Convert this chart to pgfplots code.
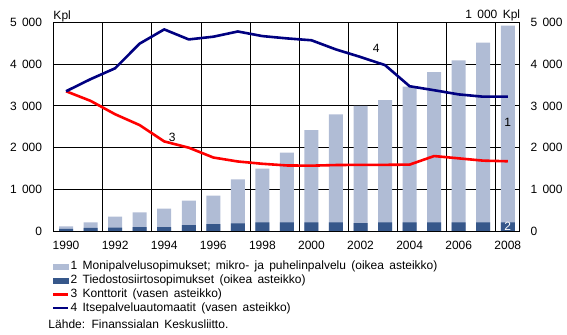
\documentclass[border=0pt]{standalone}
\usepackage{pgfplots}
\pgfplotsset{compat=1.18}
\usepackage{fontspec}
\setmainfont[WordSpace=1.6]{Liberation Sans}
\definecolor{barlight}{HTML}{B0BCD5}
\definecolor{bardark}{HTML}{36578A}
\definecolor{navyline}{HTML}{000080}
\newcommand\ff{\fontsize{12bp}{14bp}\selectfont}
\begin{document}
\begin{tikzpicture}
\pgfplotsset{
  base/.style={
    scale only axis, width=466bp, height=209bp,
    xmin=1989.48, xmax=2008.47, ymin=0, ymax=5000,
    axis line style={line width=1.3bp, black},
    major tick length=0pt, minor tick length=0pt,
    tick style={draw=none},
    /pgf/number format/assume math mode=true,
    ticklabel style={font=\ff, inner sep=0pt},
    ytick={0,1000,...,5000},
    yticklabels={0,1 000,2 000,3 000,4 000,5 000},
    xtick={1990,1992,...,2008},
    xticklabels={1990,1992,1994,1996,1998,2000,2002,2004,2006,2008},
  }
}
\begin{axis}[base, name=ax1,
  yticklabel pos=right,
  yticklabel style={xshift=11bp},
  xticklabel style={yshift=-9.5bp},
  minor xtick={1991.5,1993.5,...,2007.5},
  xminorgrids, ymajorgrids,
  grid style={line width=1bp, black},
  minor grid style={line width=1bp, black},
]
\addplot[ybar, bar width=14bp, bar shift=0pt, fill=barlight, draw=none] coordinates {
(1990,120) (1991,215) (1992,350) (1993,450) (1994,545) (1995,735) (1996,855)
(1997,1245) (1998,1500) (1999,1880) (2000,2420) (2001,2800) (2002,3000)
(2003,3140) (2004,3460) (2005,3810) (2006,4090) (2007,4515) (2008,4920)};
\addplot[ybar, bar width=14bp, bar shift=0pt, fill=bardark, draw=none] coordinates {
(1990,60) (1991,80) (1992,85) (1993,100) (1994,100) (1995,150) (1996,170)
(1997,190) (1998,215) (1999,215) (2000,215) (2001,215) (2002,195)
(2003,215) (2004,215) (2005,215) (2006,215) (2007,215) (2008,215)};
\node[font=\ff] at (axis cs:2008,2600) {1};
\node[font=\ff, text=white] at (axis cs:2008,115) {2};
\end{axis}
\begin{axis}[base, name=ax2,
  xticklabels={},
  yticklabel style={xshift=-11bp},
  legend cell align=left,
  legend style={at={(rel axis cs:0,0)}, anchor=north west, xshift=-1.3bp, yshift=-30.2bp,
    draw=none, fill=none, inner sep=0pt, outer sep=0pt,
    font=\ff, row sep=2.7bp,
    nodes={inner sep=0pt, text height=8.5bp, text depth=2.5bp},
    /tikz/every odd column/.append style={column sep=1bp}},
]
\addlegendimage{legend image code/.code={\fill[barlight] (0bp,-2.5bp) rectangle (15bp,2.5bp);}}
\addlegendentry{1 Monipalvelusopimukset;  mikro- ja puhelinpalvelu (oikea asteikko)}
\addlegendimage{legend image code/.code={\fill[bardark] (0bp,-2.5bp) rectangle (15bp,2.5bp);}}
\addlegendentry{2 Tiedostosiirtosopimukset (oikea asteikko)}
\addplot[red, line width=2.6bp, line join=round,
  legend image code/.code={\draw[red, line width=2.6bp] (0bp,0bp) -- (15bp,0bp);}] coordinates {
(1990,3350) (1991,3120) (1992,2800) (1993,2540) (1994,2150) (1995,2000) (1996,1765)
(1997,1670) (1998,1615) (1999,1575) (2000,1570) (2001,1585) (2002,1590)
(2003,1590) (2004,1595) (2005,1800) (2006,1745) (2007,1690) (2008,1675)};
\addlegendentry{3 Konttorit (vasen asteikko)}
\addplot[navyline, line width=2.6bp, line join=round,
  legend image code/.code={\draw[navyline, line width=2.6bp] (0bp,0bp) -- (15bp,0bp);}] coordinates {
(1990,3350) (1991,3640) (1992,3900) (1993,4490) (1994,4830) (1995,4590) (1996,4655)
(1997,4780) (1998,4670) (1999,4615) (2000,4570) (2001,4350) (2002,4170)
(2003,3975) (2004,3470) (2005,3375) (2006,3275) (2007,3220) (2008,3220)};
\addlegendentry{4 Itsepalveluautomaatit (vasen asteikko)}
\node[font=\ff] at (axis cs:1994.33,2250) {3};
\node[font=\ff] at (axis cs:2002.64,4370) {4};
\end{axis}
\node[anchor=base west, font=\ff, inner sep=0pt] at ([yshift=3bp]ax1.north west) {Kpl};
\node[anchor=base east, font=\ff, inner sep=0pt] at ([xshift=1bp,yshift=4bp]ax1.north east) {1 000 Kpl};
\node[anchor=base west, font=\ff, inner sep=0pt] at ([xshift=-5bp,yshift=-97.7bp]ax1.south west) {Lähde: Finanssialan Keskusliitto.};
\pgfresetboundingbox
\path ([xshift=-53.3bp,yshift=-103.7bp]ax1.south west) rectangle ([xshift=47.7bp,yshift=22.3bp]ax1.north east);
\end{tikzpicture}
\end{document}
